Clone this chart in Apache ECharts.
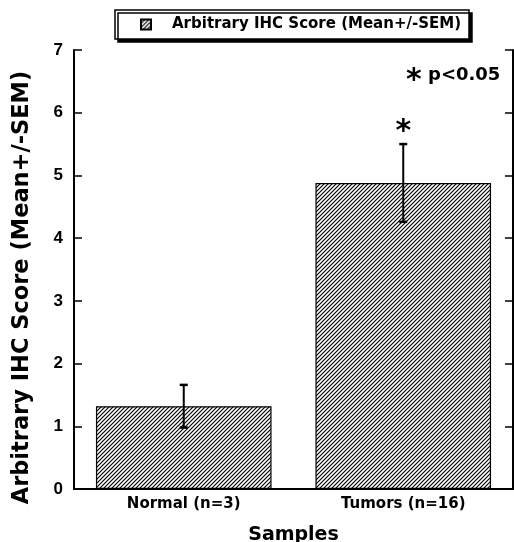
<!DOCTYPE html>
<html>
<head>
<meta charset="utf-8">
<script src="https://cdn.jsdelivr.net/npm/echarts@6/dist/echarts.min.js"></script>
<style>
  html, body { margin: 0; padding: 0; background: #fff; }
  #chart { width: 514px; height: 542px; }
</style>
</head>
<body>
<div id="chart"></div>
<script>
const categories = ["Normal (n=3)", "Tumors (n=16)"];
const means = [1.32, 4.88];
const sems = [0.34, 0.62];
const significant = [false, true];
const yTicks = [0, 1, 2, 3, 4, 5, 6, 7];

const FONT = "DejaVu Sans";

// diagonal hatch pattern ( /// )
function makeHatch() {
  const c = document.createElement("canvas");
  c.width = 4;
  c.height = 4;
  const ctx = c.getContext("2d");
  ctx.fillStyle = "#fff";
  ctx.fillRect(0, 0, 4, 4);
  ctx.strokeStyle = "#000";
  ctx.lineWidth = 1.15;
  ctx.beginPath();
  ctx.moveTo(-1, 5); ctx.lineTo(5, -1);
  ctx.moveTo(-1, 1); ctx.lineTo(1, -1);
  ctx.moveTo(3, 5); ctx.lineTo(5, 3);
  ctx.stroke();
  return c;
}
const hatch = { image: makeHatch(), repeat: "repeat" };

var chartDom = document.getElementById("chart");
var myChart = echarts.init(chartDom);

var option = {
  animation: false,
  backgroundColor: "#fff",
  title: [
    {
      text: "*",
      left: 401,
      top: 61,
      textStyle: { fontFamily: FONT, fontWeight: "bold", fontSize: 30, color: "#000" },
    },
    {
      text: "p<0.05",
      left: 423,
      top: 61,
      textStyle: { fontFamily: FONT, fontWeight: "bold", fontSize: 18, color: "#000" },
    },
  ],
  legend: {
    left: 115,
    top: 10,
    padding: [7, 8, 7, 25],
    backgroundColor: "#fff",
    borderColor: "#000",
    borderWidth: 1.5,
    shadowColor: "#000",
    shadowBlur: 0,
    shadowOffsetX: 3,
    shadowOffsetY: 3,
    itemWidth: 10,
    itemHeight: 10,
    icon: "rect",
    textStyle: {
      fontFamily: FONT,
      fontWeight: "bold",
      fontSize: 15,
      color: "#000",
      padding: [0, 0, 0, 16],
    },
    data: ["Arbitrary IHC Score (Mean+/-SEM)"],
  },
  grid: {
    left: 74,
    right: 1,
    top: 50,
    bottom: 53,
    containLabel: false,
    outerBoundsMode: "none",
  },
  xAxis: [
    {
      type: "category",
      data: categories,
      boundaryGap: true,
      axisLine: { lineStyle: { color: "#000", width: 2 } },
      axisTick: { inside: true, length: 8, lineStyle: { color: "#000", width: 1.5 } },
      axisLabel: {
        margin: 8,
        fontFamily: FONT,
        fontWeight: "bold",
        fontSize: 15,
        color: "#000",
      },
      name: "Samples",
      nameLocation: "middle",
      nameGap: 37,
      nameTextStyle: { fontFamily: FONT, fontWeight: "bold", fontSize: 19, color: "#000" },
    },
    {
      type: "category",
      data: categories,
      position: "top",
      boundaryGap: true,
      axisLine: { lineStyle: { color: "#000", width: 2 } },
      axisTick: { inside: true, length: 8, lineStyle: { color: "#000", width: 1.5 } },
      axisLabel: { show: false },
    },
  ],
  yAxis: [
    {
      type: "value",
      min: yTicks[0],
      max: yTicks[yTicks.length - 1],
      interval: 1,
      splitLine: { show: false },
      axisLine: { show: true, lineStyle: { color: "#000", width: 2 } },
      axisTick: { show: true, inside: true, length: 8, lineStyle: { color: "#000", width: 1.5 } },
      axisLabel: {
        margin: 11,
        fontFamily: "Liberation Sans",
        fontWeight: "bold",
        fontSize: 17,
        color: "#000",
      },
      name: "Arbitrary IHC Score (Mean+/-SEM)",
      nameLocation: "middle",
      nameGap: 40,
      nameRotate: 90,
      nameTextStyle: {
        fontFamily: FONT,
        fontWeight: "bold",
        fontSize: 22.5,
        color: "#000",
        padding: [0, 36, 0, 0],
      },
    },
    {
      type: "value",
      position: "right",
      min: yTicks[0],
      max: yTicks[yTicks.length - 1],
      interval: 1,
      splitLine: { show: false },
      axisLine: { show: true, lineStyle: { color: "#000", width: 2 } },
      axisTick: { show: true, inside: true, length: 8, lineStyle: { color: "#000", width: 1.5 } },
      axisLabel: { show: false },
    },
  ],
  series: [
    {
      name: "Arbitrary IHC Score (Mean+/-SEM)",
      type: "bar",
      barWidth: "80%",
      data: means,
      itemStyle: {
        color: hatch,
        borderColor: "#000",
        borderWidth: 1.2,
      },
      z: 2,
    },
    {
      name: "errors",
      type: "custom",
      z: 3,
      data: means.map((m, i) => [i, m - sems[i], m + sems[i], significant[i] ? 1 : 0]),
      renderItem: function (params, api) {
        const x = api.value(0);
        const lo = api.coord([x, api.value(1)]);
        const hi = api.coord([x, api.value(2)]);
        const cap = 4;
        const style = { stroke: "#000", lineWidth: 2 };
        const children = [
          { type: "line", shape: { x1: hi[0], y1: hi[1], x2: lo[0], y2: lo[1] }, style: style },
          { type: "line", shape: { x1: hi[0] - cap, y1: hi[1], x2: hi[0] + cap, y2: hi[1] }, style: { stroke: "#000", lineWidth: 2.5 } },
          { type: "line", shape: { x1: lo[0] - cap, y1: lo[1], x2: lo[0] + cap, y2: lo[1] }, style: { stroke: "#000", lineWidth: 2.5 } },
        ];
        if (api.value(3)) {
          children.push({
            type: "text",
            style: {
              text: "*",
              x: hi[0],
              y: hi[1] + 3,
              align: "center",
              verticalAlign: "bottom",
              fontFamily: FONT,
              fontWeight: "bold",
              fontSize: 30,
              fill: "#000",
            },
          });
        }
        return { type: "group", children: children };
      },
    },
  ],
};

myChart.setOption(option);
window.addEventListener("resize", myChart.resize);
</script>
</body>
</html>
